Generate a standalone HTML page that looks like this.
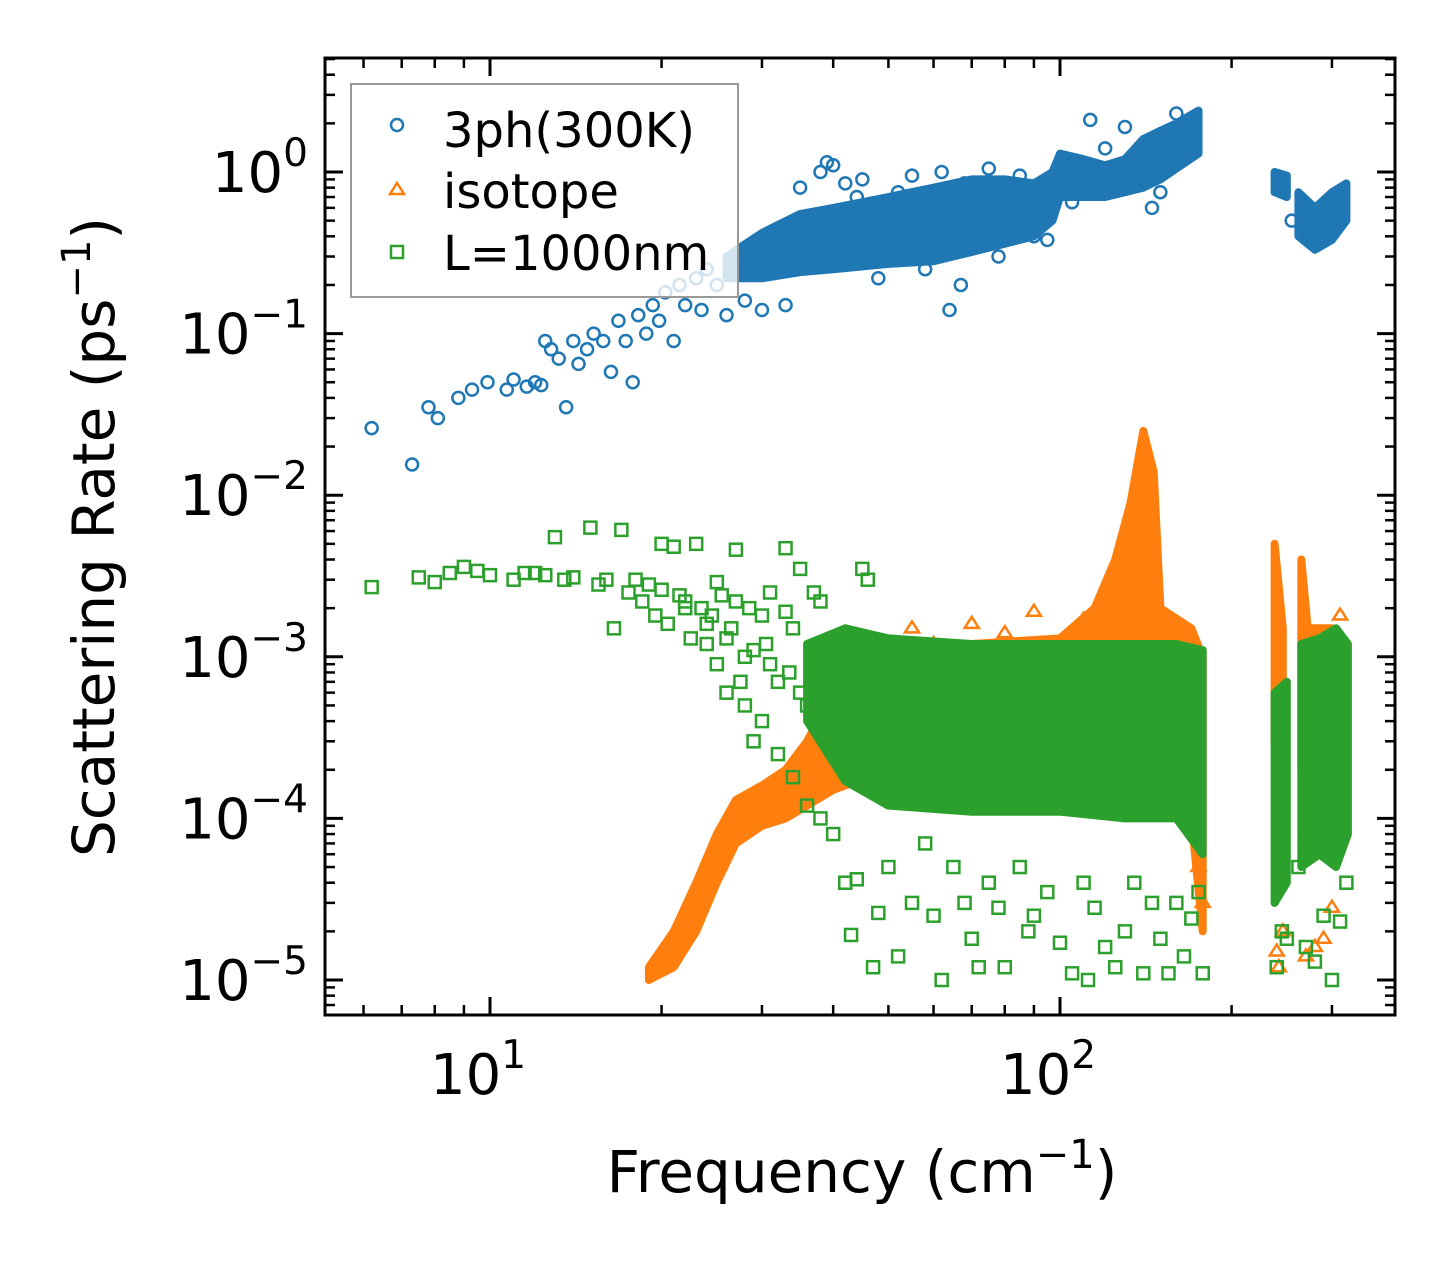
<!DOCTYPE html>
<html><head><meta charset="utf-8"><style>
html,body{margin:0;padding:0;background:#fff}
svg{display:block;font-family:"DejaVu Sans","Liberation Sans",sans-serif}
</style></head><body>
<svg id="chart" width="1455" height="1265" viewBox="0 0 1455 1265" xmlns="http://www.w3.org/2000/svg">
<rect width="1455" height="1265" fill="#fff"/>
<g id="plot"></g>
<g id="axes"></g>
<g id="legend">
<rect x="351" y="84" width="387" height="213" fill="#fff" fill-opacity="0.8" stroke="#999" stroke-width="2"/>
<circle cx="397" cy="125" r="6" fill="none" stroke="#1f77b4" stroke-width="2.5"/>
<text x="443" y="147" font-size="48">3ph(300K)</text>
<polygon points="397,183 404,194 390,194" fill="none" stroke="#ff7f0e" stroke-width="2.5"/>
<text x="443" y="208" font-size="48">isotope</text>
<rect x="391" y="246" width="12" height="12" fill="none" stroke="#2ca02c" stroke-width="2.5"/>
<text x="443" y="270" font-size="48">L=1000nm</text>
</g>
<text x="862" y="1192" font-size="58" text-anchor="middle">Frequency (cm<tspan dy="-24" font-size="40">−1</tspan><tspan dy="24">)</tspan></text>
<text transform="translate(114,537) rotate(-90)" font-size="58" text-anchor="middle">Scattering Rate (ps<tspan dy="-24" font-size="40">−1</tspan><tspan dy="24">)</tspan></text>
</svg>
<script>
const xTickValues=[10,100];
const xTickLabels=["1","2"];
const yTickValues=[1,0.1,0.01,0.001,0.0001,0.00001];
const yTickLabels=["0","−1","−2","−3","−4","−5"];
// dense regions: [freq, low, high]
const blueBand1=[[26,0.22,0.3],[30,0.22,0.42],[35,0.24,0.55],[40,0.25,0.6],[50,0.27,0.7],[60,0.28,0.8],[70,0.32,0.9],[80,0.36,0.9],[90,0.4,0.85],[97,0.5,1.0],[100,0.7,1.3],[110,0.7,1.2],[120,0.7,1.1],[130,0.75,1.2],[140,0.8,1.6],[150,0.9,1.8],[160,1.05,2.0],[175,1.3,2.4]];
const blueBand2=[[238,0.75,1.0],[250,0.7,0.95]];
const blueBand3=[[262,0.4,0.75],[280,0.33,0.6],[300,0.38,0.75],[318,0.5,0.85]];
const orangeBand1=[[19,1.0e-5,1.2e-5],[21,1.2e-5,2e-5],[23,2e-5,4e-5],[25,4e-5,8e-5],[27,7e-5,1.3e-4],[30,9e-5,1.6e-4],[33,1e-4,2e-4],[36,1.2e-4,3e-4],[40,1.5e-4,6e-4],[50,2e-4,1e-3],[70,2e-4,1.2e-3],[100,2e-4,1.3e-3],[115,2e-4,2e-3],[125,2e-4,4e-3],[133,2e-4,9e-3],[140,3e-4,2.5e-2],[146,3e-4,1.4e-2],[150,2e-4,2e-3],[170,1e-4,1.5e-3],[178,2e-5,1e-3]];
const orangeBand2=[[238,3e-4,5e-3],[246,3e-4,1.5e-3]];
const orangeBand3=[[265,2e-4,4e-3],[272,2e-4,1.5e-3],[300,1e-4,1.5e-3],[318,1e-4,1.2e-3]];
const greenBand1=[[36,4e-4,1.2e-3],[42,1.7e-4,1.5e-3],[50,1.2e-4,1.3e-3],[70,1.1e-4,1.2e-3],[100,1.1e-4,1.2e-3],[130,1e-4,1.2e-3],[160,1e-4,1.2e-3],[178,6e-5,1.1e-3]];
const greenBand2=[[238,3e-5,6e-4],[250,4e-5,7e-4]];
const greenBand3=[[265,5e-5,1.2e-3],[285,6e-5,1.3e-3],[305,5e-5,1.5e-3],[320,8e-5,1.2e-3]];
const blueFreq=[6.2,7.3,7.8,8.1,8.8,9.3,9.9,10.7,11.0,11.6,12.0,12.3,12.5,12.8,13.2,13.6,14.0,14.3,14.8,15.2,15.8,16.3,16.8,17.3,17.8,18.2,18.8,19.3,19.8,20.3,21,21.5,22,23,23.5,24,25,26,27,28,30,33,35,38,39,40,42,45,55,62,64,67,75,90,113,130,145,160,255,44,48,52,58,68,78,85,95,105,120,150];
const blueRate=[0.026,0.0155,0.035,0.03,0.04,0.045,0.05,0.045,0.052,0.047,0.05,0.048,0.09,0.08,0.07,0.035,0.09,0.065,0.08,0.1,0.09,0.058,0.12,0.09,0.05,0.13,0.1,0.15,0.12,0.18,0.09,0.2,0.15,0.22,0.14,0.25,0.2,0.13,0.3,0.16,0.14,0.15,0.8,1.0,1.15,1.1,0.85,0.9,0.95,1.0,0.14,0.2,1.05,0.4,2.1,1.9,0.6,2.3,0.5,0.7,0.22,0.75,0.25,0.85,0.3,0.95,0.38,0.65,1.4,0.75];
const orangeFreq=[55,60,70,80,90,110,120,155,165,175,178,240,242,246,270,280,290,300,310];
const orangeRate=[1.5e-3,1.2e-3,1.6e-3,1.4e-3,1.9e-3,1.7e-3,2.2e-3,1.2e-3,1.3e-3,5e-5,3e-5,1.5e-5,1.2e-5,2e-5,1.4e-5,1.6e-5,1.8e-5,2.8e-5,1.8e-3];
const greenFreq=[6.2,7.5,8,8.5,9,9.5,10,11,11.5,12,12.5,13,13.5,14,15,15.5,16,16.5,17,17.5,18,18.5,19,19.5,20,20.5,21,21.5,22,22.5,23,23.5,24,24.5,25,25.5,26,26.5,27,27.5,28,28.5,29,30,30.5,31,32,33,33.5,34,35,36,37,38,39,40,41,42,43,44,45,46,47,48,50,52,55,58,60,62,65,68,70,72,75,78,80,85,88,90,95,100,105,110,112,115,120,125,130,135,140,145,150,155,160,165,170,175,178,240,245,250,262,270,280,290,300,310,318,20,22,24,26,28,30,32,34,36,38,25,27,29,31,33,35];
const greenRate=[2.7e-3,3.1e-3,2.9e-3,3.3e-3,3.6e-3,3.4e-3,3.2e-3,3.0e-3,3.3e-3,3.3e-3,3.2e-3,5.5e-3,3.0e-3,3.1e-3,6.3e-3,2.8e-3,3.0e-3,1.5e-3,6.1e-3,2.5e-3,3.0e-3,2.2e-3,2.8e-3,1.8e-3,5e-3,1.6e-3,4.8e-3,2.4e-3,2.2e-3,1.3e-3,5e-3,2.0e-3,1.2e-3,1.8e-3,0.9e-3,2.4e-3,0.6e-3,1.5e-3,4.6e-3,0.7e-3,0.5e-3,2.0e-3,0.3e-3,0.4e-3,1.2e-3,2.5e-3,0.25e-3,4.7e-3,0.8e-3,0.18e-3,3.5e-3,0.12e-3,2.5e-3,0.1e-3,0.6e-3,0.08e-3,0.3e-3,4e-5,1.9e-5,4.2e-5,3.5e-3,3e-3,1.2e-5,2.6e-5,5e-5,1.4e-5,3.0e-5,7e-5,2.5e-5,1.0e-5,5e-5,3e-5,1.8e-5,1.2e-5,4e-5,2.8e-5,1.2e-5,5e-5,2e-5,2.5e-5,3.5e-5,1.7e-5,1.1e-5,4e-5,1.0e-5,2.8e-5,1.6e-5,1.2e-5,2e-5,4e-5,1.1e-5,3e-5,1.8e-5,1.1e-5,3e-5,1.4e-5,2.4e-5,3.5e-5,1.1e-5,1.2e-5,2e-5,1.8e-5,5e-5,1.6e-5,1.3e-5,2.5e-5,1.0e-5,2.3e-5,4e-5,2.6e-3,2.0e-3,1.6e-3,1.3e-3,1.0e-3,1.8e-3,0.7e-3,1.5e-3,0.5e-3,2.2e-3,2.9e-3,2.2e-3,1.1e-3,0.9e-3,1.9e-3,0.6e-3];

const NS='http://www.w3.org/2000/svg';
const L=325,R=1395,T=58,B=1015;
function X(f){return 490+570*(Math.log10(f)-1);}
function Y(v){return 172-161.6*Math.log10(v);}
function mk(tag,attrs,parent){const e=document.createElementNS(NS,tag);for(const k in attrs)e.setAttribute(k,attrs[k]);parent.appendChild(e);return e;}
const plot=document.getElementById('plot');
const axes=document.getElementById('axes');
const cp=mk('clipPath',{id:'clip'},plot);
mk('rect',{x:L,y:T,width:R-L,height:B-T},cp);
const g=mk('g',{'clip-path':'url(#clip)'},plot);


function band(arr,color,name){
  const top=arr.map(d=>X(d[0]).toFixed(1)+','+Y(d[2]).toFixed(1));
  const bot=arr.slice().reverse().map(d=>X(d[0]).toFixed(1)+','+Y(d[1]).toFixed(1));
  const p=mk('polygon',{points:top.concat(bot).join(' '),fill:color,stroke:color,'stroke-width':8,'stroke-linejoin':'round'},g);
  
  
}
function pts(fs,vs,type,color,name){
  for(let i=0;i<fs.length;i++){
    const x=X(fs[i]),y=Y(vs[i]);let e;
    if(type==='c')e=mk('circle',{cx:x,cy:y,r:6,fill:'none',stroke:color,'stroke-width':2.5},g);
    else if(type==='t')e=mk('polygon',{points:`${x},${y-7} ${x+7},${y+4} ${x-7},${y+4}`,fill:'none',stroke:color,'stroke-width':2.5},g);
    else e=mk('rect',{x:x-6,y:y-6,width:12,height:12,fill:'none',stroke:color,'stroke-width':2.5},g);
    
    
  }
}
band(blueBand1,'#1f77b4','3ph-dense-band');band(blueBand2,'#1f77b4','3ph-dense-band');band(blueBand3,'#1f77b4','3ph-dense-band');
pts(blueFreq,blueRate,'c','#1f77b4','3ph-point');
band(orangeBand1,'#ff7f0e','isotope-dense-band');band(orangeBand2,'#ff7f0e','isotope-dense-band');band(orangeBand3,'#ff7f0e','isotope-dense-band');
pts(orangeFreq,orangeRate,'t','#ff7f0e','isotope-point');
band(greenBand1,'#2ca02c','boundary-dense-band');band(greenBand2,'#2ca02c','boundary-dense-band');band(greenBand3,'#2ca02c','boundary-dense-band');
pts(greenFreq,greenRate,'s','#2ca02c','boundary-point');
const fr=mk('rect',{x:L,y:T,width:R-L,height:B-T,fill:'none',stroke:'#000','stroke-width':3},axes);


function line(x1,y1,x2,y2,w,name){const e=mk('line',{x1,y1,x2,y2,stroke:'#000','stroke-width':w},axes);}
for(let d=1;d<=3;d++)for(let m=1;m<=9;m++){const v=m*Math.pow(10,d-1);if(v<5.13||v>387)continue;const x=X(v);const len=m===1?18:10;const w=m===1?3:2.5;
line(x,B,x,B-len,w,'x-tick');line(x,T,x,T+len,w,'x-tick');}
xTickValues.forEach((v,i)=>{const t=mk('text',{x:X(v)-12,y:1094,'font-size':56,'text-anchor':'middle'},axes);t.textContent='10';const s=mk('tspan',{dy:-26,'font-size':39},t);s.textContent=xTickLabels[i];
});
for(let e=-6;e<=0;e++)for(let m=1;m<=9;m++){const v=m*Math.pow(10,e);const y=Y(v);if(y<T||y>B)continue;const len=m===1?18:10;const w=m===1?3:2.5;
line(L,y,L+len,y,w,'y-tick');line(R,y,R-len,y,w,'y-tick');}
yTickValues.forEach((v,i)=>{const t=mk('text',{x:308,y:Y(v)+20,'font-size':56,'text-anchor':'end'},axes);
const a=mk('tspan',{},t);a.textContent='10';const s=mk('tspan',{dy:-26,'font-size':39},t);s.textContent=yTickLabels[i];
});
</script>
</body></html>
